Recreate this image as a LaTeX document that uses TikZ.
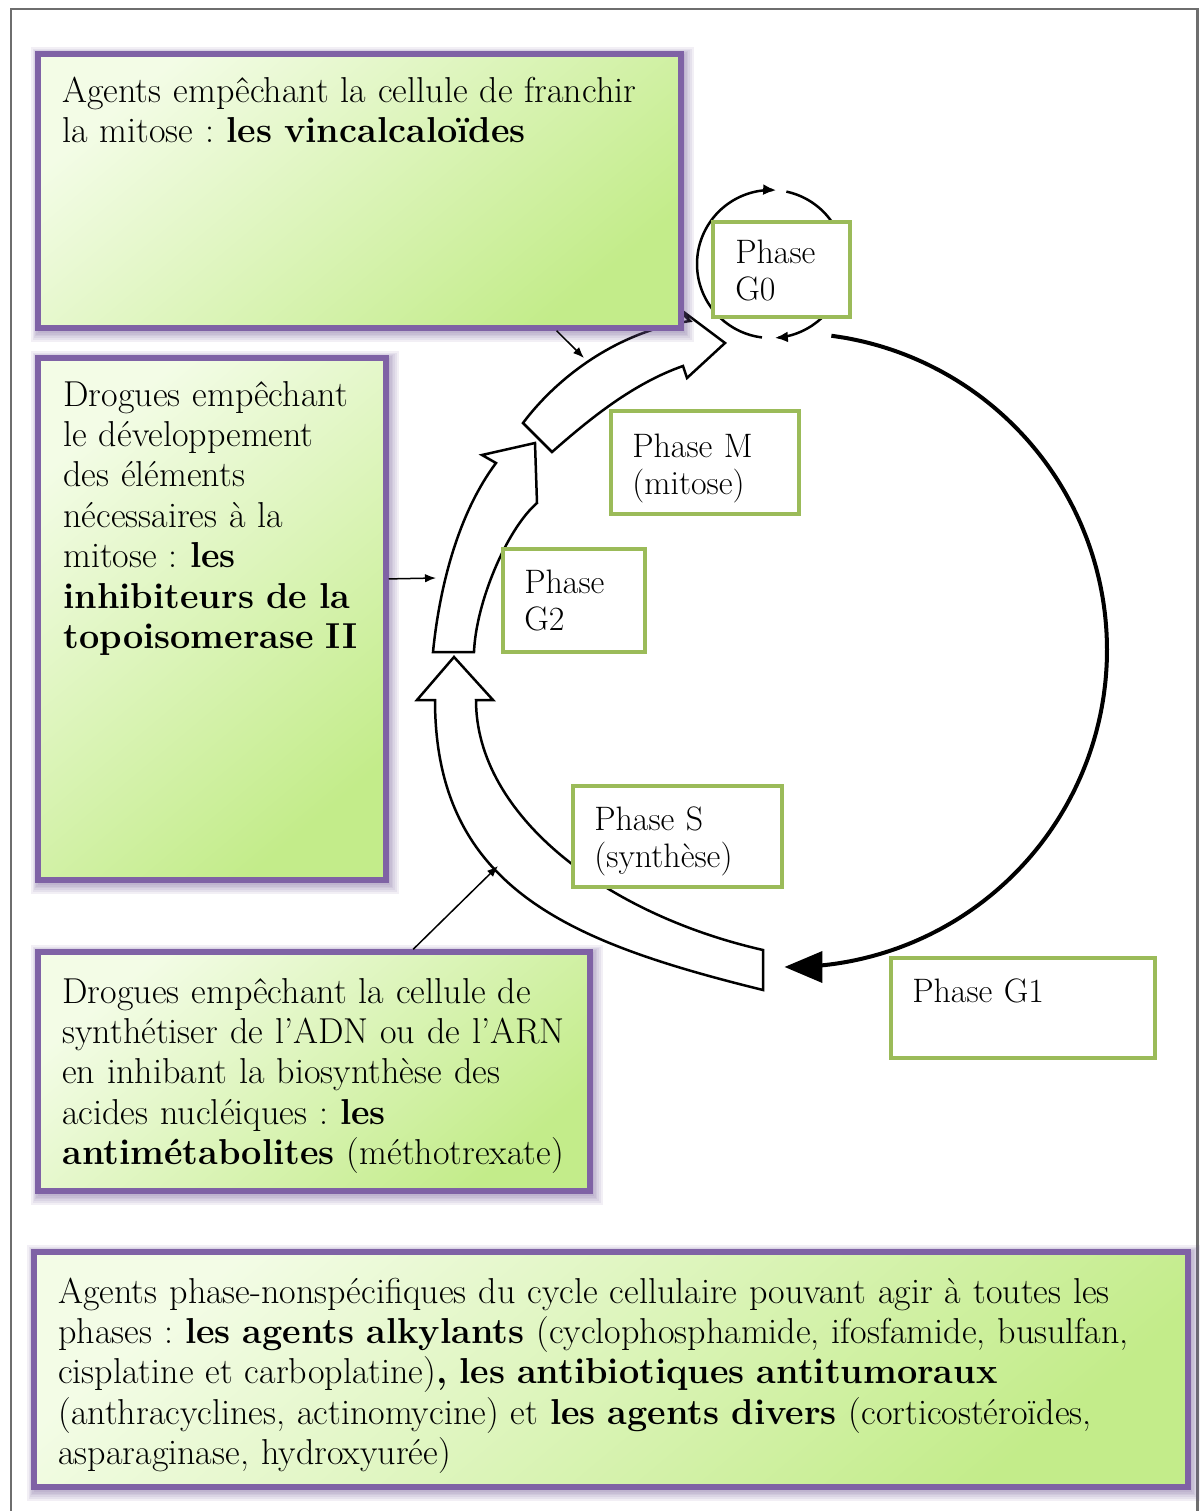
\documentclass[tikz,border=0pt]{standalone}
\usetikzlibrary{arrows.meta,calc,fit}
\definecolor{purpleB}{HTML}{7F62A5}
\definecolor{glowc}{HTML}{6A5290}
\definecolor{gPale}{HTML}{F3FCE6}
\definecolor{gDeep}{HTML}{C3EC8A}
\definecolor{phaseG}{HTML}{9BBB59}
\definecolor{frameC}{HTML}{6E6E6E}
\tikzset{
  agentbox/.style={draw=purpleB, line width=0.11cm, inner sep=0pt, top color=gPale, bottom color=gDeep, shading angle=40},
  phasebox/.style={draw=phaseG, line width=0.08cm, fill=white, inner sep=0pt},
  bodytxt/.style={anchor=base west, inner sep=0pt, align=left, text width=#1, font=\fontsize{20.5}{23}\selectfont},
  phasetxt/.style={anchor=base west, inner sep=0pt, align=left, text width=5cm, font=\fontsize{19.3}{21.5}\selectfont},
  blockarrow/.style={draw=black, fill=white, line width=0.05cm, line join=miter},
  conn/.style={draw=black, line width=0.03cm, -{Latex[length=0.22cm,width=0.17cm]}},
  cyclearc/.style={draw=black, line width=0.08cm, -{Triangle[length=0.76cm,width=0.62cm]}},
  gzeroarc/.style={draw=black, line width=0.05cm, -{Latex[length=0.26cm,width=0.22cm]}},
}
\newcommand\myglow[4]{%
  \foreach \k in {1,...,6}{%
    \fill[glowc, opacity=0.09] (#1-\k*1.3+1, #2-\k*1.3+1) rectangle (#3+\k*1.8+2, #4+\k*1.8+3);
  }}
\frenchspacing
\begin{document}
\begin{tikzpicture}[x=0.02cm, y=-0.02cm]
\useasboundingbox (0,0) rectangle (1200,1511);
% outer frame
\draw[frameC, line width=0.06cm] (11,1511) -- (11,9) -- (1197,9) -- (1197,1511);

% big black cycle arc (G0 -> G1)
\draw[cyclearc] plot[smooth, samples=60, domain=-82.5:91] ({790+317*cos(\x)}, {650+317*sin(\x)});

% small G0 loop
\draw[gzeroarc] plot[smooth, samples=40, domain=97:274] ({771+74*cos(\x)}, {264+74*sin(\x)});
\draw[gzeroarc] plot[smooth, samples=40, domain=-78:87] ({771+74*cos(\x)}, {264+74*sin(\x)});

% block arrow S (from G1 up to G2)
\draw[blockarrow] (763,990) .. controls (573,943) and (435,890) .. (435,700)
  -- (417,700) -- (454,657) -- (493,700) -- (476,700)
  .. controls (476,815) and (605,914) .. (763,950) -- cycle;

% block arrow G2 (to M)
\draw[blockarrow] (433,652) .. controls (440,582) and (460,511) .. (496,463)
  -- (482,455) -- (535,443) -- (537,503)
  .. controls (507,529) and (476,602) .. (474,652) -- cycle;

% block arrow M (to G0)
\draw[blockarrow] (523,423) .. controls (559,375) and (620,331) .. (690,321)
  -- (673,304) -- (725,343) -- (687,378) -- (683,366)
  .. controls (633,383.5) and (589.5,419) .. (552,452) -- cycle;

% connector targets on the block arrows
\coordinate (hitM) at (584,358);
\coordinate (hitG2) at (436,578);
\coordinate (hitS) at (498,866);

% phase boxes
\node[phasebox, fit={(713,222) (850,317)}] (pG0) {};
\node[phasetxt] (tG0) at (735,263) {Phase\\G0};
\node[phasebox, fit={(611,411) (799,514)}] (pM) {};
\node[phasetxt] (tM) at (632,457) {Phase M\\(mitose)};
\node[phasebox, fit={(503,549) (645,652)}] (pG2) {};
\node[phasetxt] (tG2) at (524,593) {Phase\\G2};
\node[phasebox, fit={(573,786) (782,887)}] (pS) {};
\node[phasetxt] (tS) at (594,830) {Phase S\\(synthèse)};
\node[phasebox, fit={(891,958) (1155,1058)}] (pG1) {};
\node[phasetxt] (tG1) at (912,1002) {Phase G1};

% agent boxes
\myglow{38}{54}{681}{328}
\node[agentbox, fit={(38,54) (681,328)}] (boxA) {};
\node[bodytxt=15cm] (tA) at (62,102) {Agents empêchant la cellule de franchir\\la mitose : \textbf{les vincalcaloïdes}};

\myglow{38}{358}{386}{880}
\node[agentbox, fit={(38,358) (386,880)}] (boxB) {};
\node[bodytxt=9cm] (tB) at (63,406) {Drogues empêchant\\le développement\\des éléments\\nécessaires à la\\mitose : \textbf{les}\\\textbf{inhibiteurs de la}\\\textbf{topoisomerase II}};

\myglow{38}{952}{590}{1191}
\node[agentbox, fit={(38,952) (590,1191)}] (boxC) {};
\node[bodytxt=14cm] (tC) at (62,1003) {Drogues empêchant la cellule de\\synthétiser de l’ADN ou de l’ARN\\en inhibant la biosynthèse des\\acides nucléiques : \textbf{les}\\\textbf{antimétabolites} (méthotrexate)};

\myglow{34}{1252}{1188}{1487}
\node[agentbox, fit={(34,1252) (1188,1487)}] (boxD) {};
\node[bodytxt=25cm] (tD) at (58,1303) {Agents phase-nonspécifiques du cycle cellulaire pouvant agir à toutes les\\phases : \textbf{les agents alkylants} (cyclophosphamide, ifosfamide, busulfan,\\cisplatine et carboplatine)\textbf{, les antibiotiques antitumoraux}\\(anthracyclines, actinomycine) et \textbf{les agents divers} (corticostéroïdes,\\asparaginase, hydroxyurée)};

% connectors
\draw[conn] ($(boxA.south west)!0.804!(boxA.south east)$) -- (hitM);
\draw[conn] ($(boxB.north east)!0.424!(boxB.south east)$) -- (hitG2);
\draw[conn] ($(boxC.north west)!0.678!(boxC.north east)$) -- (hitS);
\end{tikzpicture}
\end{document}
